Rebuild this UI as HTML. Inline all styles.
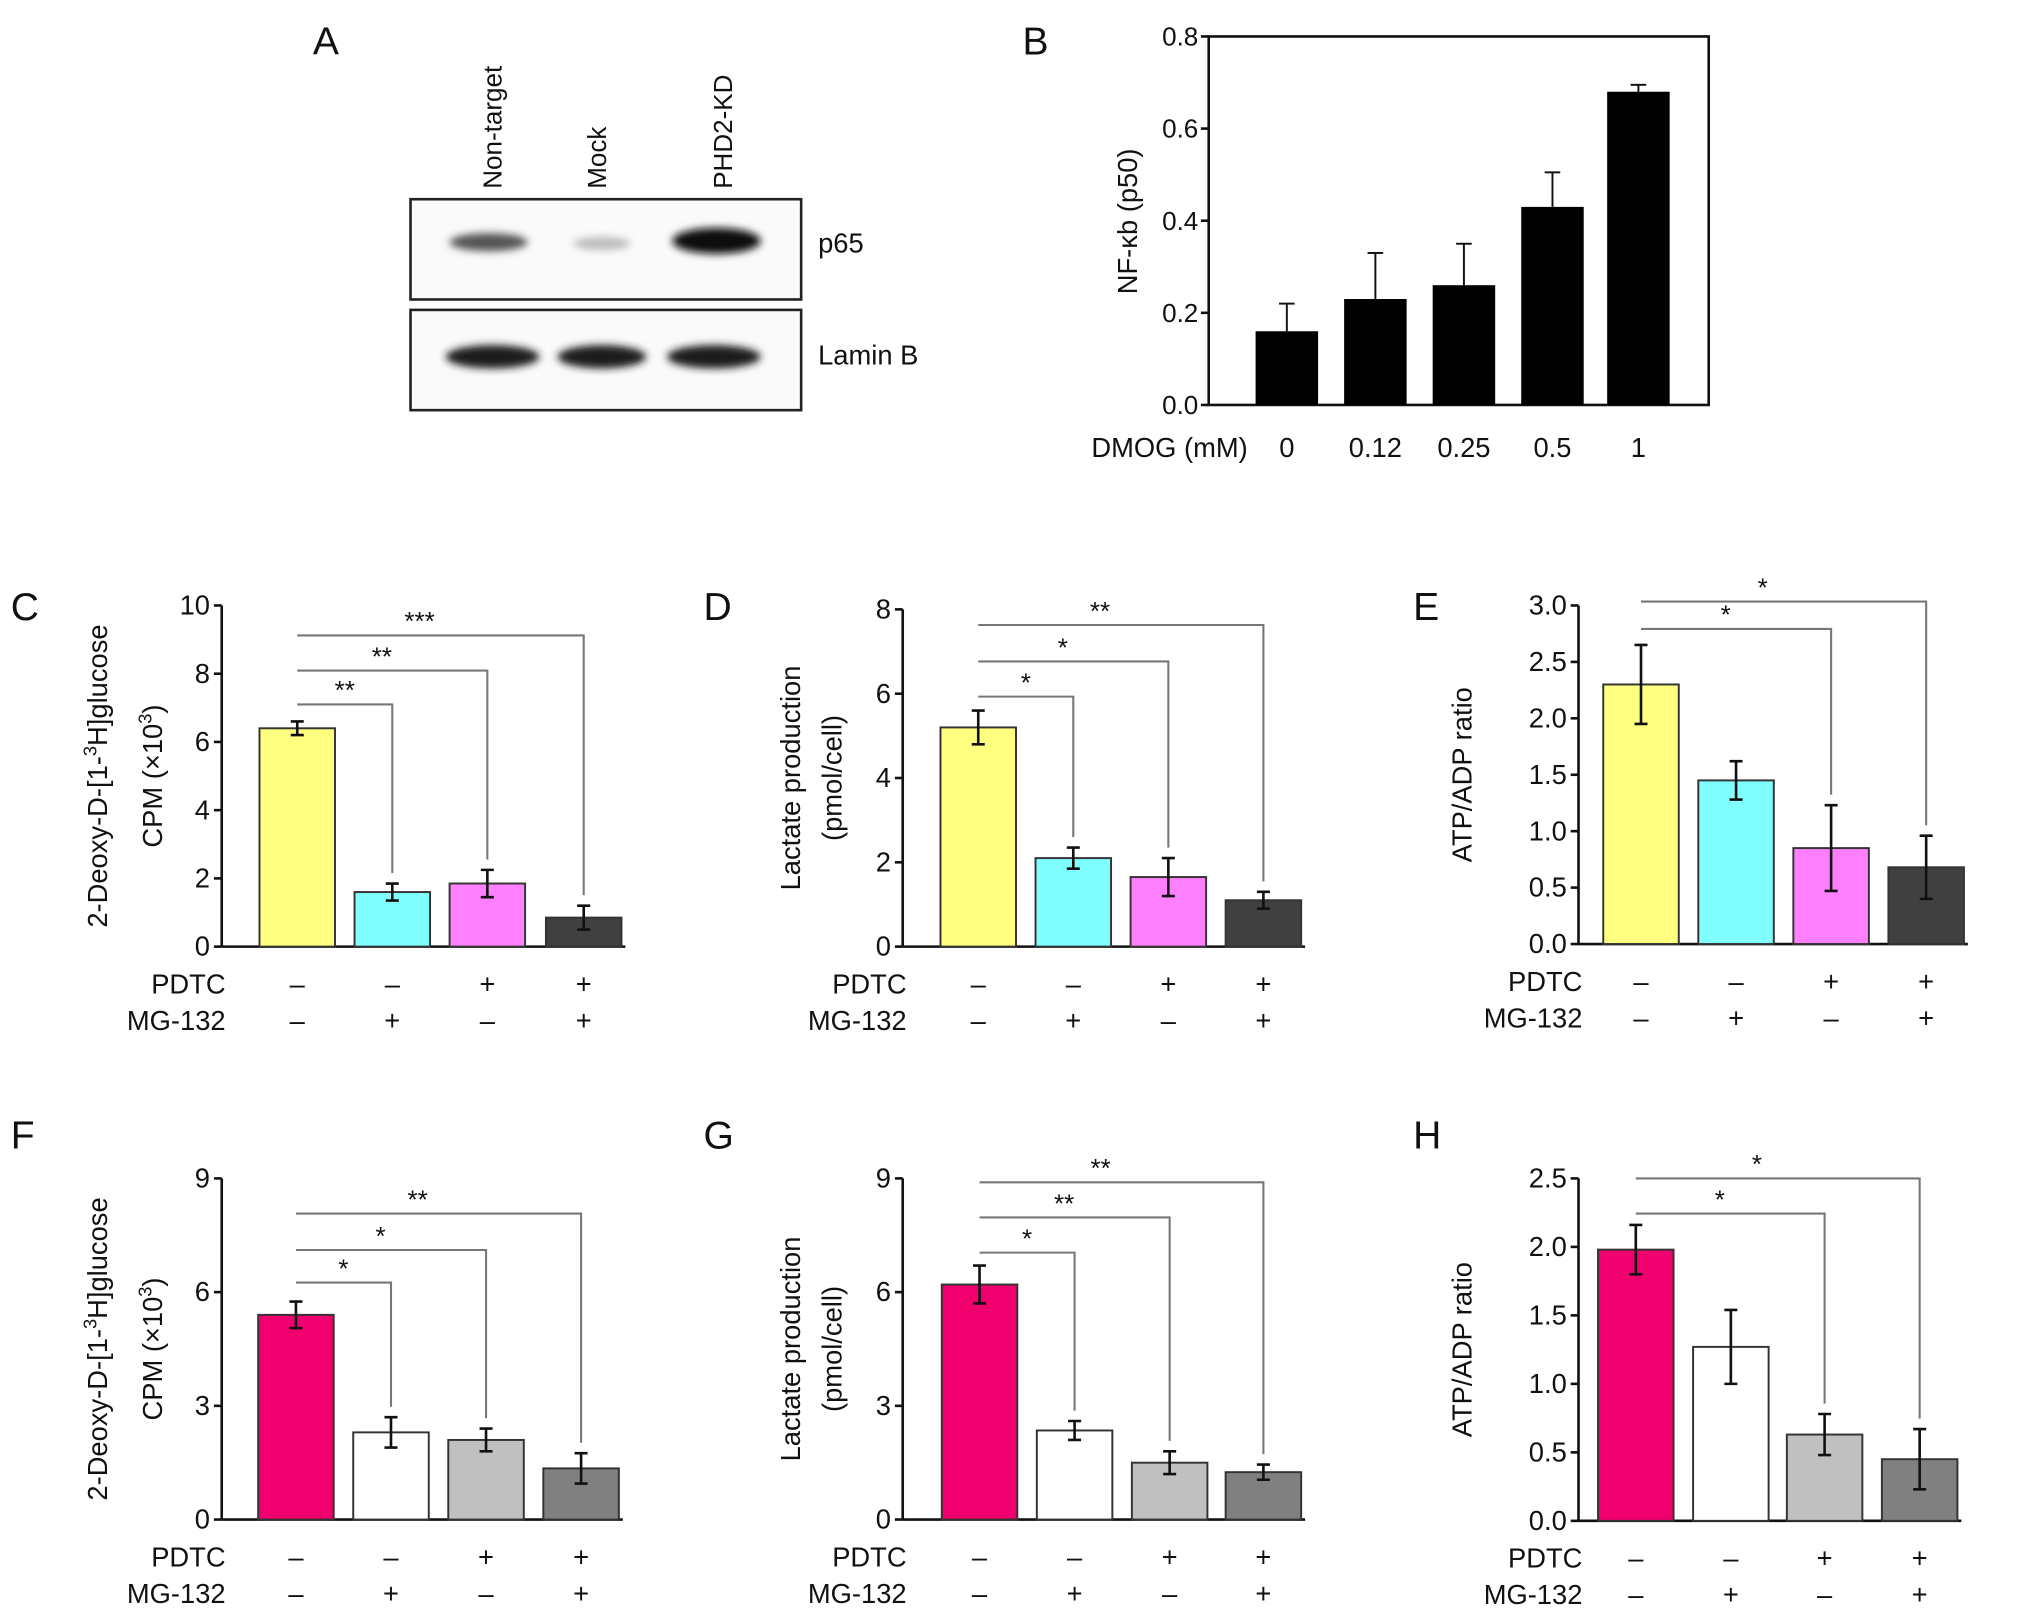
<!DOCTYPE html>
<html><head><meta charset="utf-8"><style>
html,body{margin:0;padding:0;background:#fff}
svg{display:block}
text{font-family:"Liberation Sans",sans-serif;fill:#111}
</style></head><body>
<svg id="fig" width="2032" height="1612" viewBox="0 0 1560 1238" xmlns="http://www.w3.org/2000/svg">
<defs>
<filter id="blur" x="-20%" y="-50%" width="140%" height="200%"><feGaussianBlur stdDeviation="3"/></filter>
</defs>
<g>
<text x="240" y="42" font-size="30">A</text>
<text transform="translate(385,145) rotate(-90)" font-size="20">Non-target</text>
<text transform="translate(465,145) rotate(-90)" font-size="20">Mock</text>
<text transform="translate(562,145) rotate(-90)" font-size="20">PHD2-KD</text>
<rect x="315" y="153" width="300" height="77" fill="#fafafa" stroke="#222" stroke-width="2"/>
<rect x="315" y="238" width="300" height="77" fill="#fafafa" stroke="#222" stroke-width="2"/>
<ellipse cx="375" cy="186" rx="30" ry="7" fill="#555" filter="url(#blur)"/>
<ellipse cx="462" cy="187" rx="22" ry="5" fill="#bbb" filter="url(#blur)"/>
<ellipse cx="550" cy="185" rx="34" ry="10" fill="#111" filter="url(#blur)"/>
<ellipse cx="378" cy="274" rx="36" ry="9" fill="#1a1a1a" filter="url(#blur)"/>
<ellipse cx="462" cy="274" rx="34" ry="9" fill="#1a1a1a" filter="url(#blur)"/>
<ellipse cx="548" cy="274" rx="36" ry="9" fill="#1a1a1a" filter="url(#blur)"/>
<text x="628" y="194" font-size="21">p65</text>
<text x="628" y="280" font-size="21">Lamin B</text>
</g>
<g id="charts"></g>
</svg>
<script>
// Panel B data
const bCategories = ["0","0.12","0.25","0.5","1"];
const bValues = [0.16,0.23,0.26,0.43,0.68];
const bErrors = [0.06,0.10,0.09,0.075,0.015];
const bTicks = [0,0.2,0.4,0.6,0.8];
// Panels C-H data
const cValues=[6.4,1.6,1.85,0.85], cErrors=[0.2,0.25,0.4,0.35], cTicks=[0,2,4,6,8,10], cStars=["**","**","***"];
const dValues=[5.2,2.1,1.65,1.1], dErrors=[0.4,0.25,0.45,0.2], dTicks=[0,2,4,6,8], dStars=["*","*","**"];
const eValues=[2.3,1.45,0.85,0.68], eErrors=[0.35,0.17,0.38,0.28], eTicks=[0,0.5,1.0,1.5,2.0,2.5,3.0], eStars=["*","*"];
const fValues=[5.4,2.3,2.1,1.35], fErrors=[0.35,0.4,0.3,0.4], fTicks=[0,3,6,9], fStars=["*","*","**"];
const gValues=[6.2,2.35,1.5,1.25], gErrors=[0.5,0.25,0.3,0.2], gTicks=[0,3,6,9], gStars=["*","**","**"];
const hValues=[1.98,1.27,0.63,0.45], hErrors=[0.18,0.27,0.15,0.22], hTicks=[0,0.5,1.0,1.5,2.0,2.5], hStars=["*","*"];
const pdtcSigns=["–","–","+","+"], mgSigns=["–","+","–","+"];

const NS="http://www.w3.org/2000/svg";
const root=document.getElementById('charts');
function mk(tag,attrs,parent,txt){const e=document.createElementNS(NS,tag);for(const k in attrs)e.setAttribute(k,attrs[k]);if(txt!==undefined)e.textContent=txt;(parent||root).appendChild(e);return e;}

// Panel B
(function(){
  const g=mk('g',{});
  
  
  const x0=928,x1=1312,y0=311,y1=28,max=0.8;
  const ys=v=>y0-(v/max)*(y0-y1);
  const xs=[988,1056,1124,1192,1258];
  let t=mk('text',{x:785,y:42,'font-size':30},g,'B');
  
  
  let r=mk('rect',{x:x0,y:y1,width:x1-x0,height:y0-y1,fill:'none',stroke:'#111','stroke-width':2},g);
  
  
  bTicks.forEach(v=>{
    mk('line',{x1:x0-6,x2:x0,y1:ys(v),y2:ys(v),stroke:'#111','stroke-width':2},g);
    const tt=mk('text',{x:x0-8,y:ys(v)+7,'font-size':20,'text-anchor':'end'},g,v.toFixed(1));
    
    
  });
  bValues.forEach((v,i)=>{
    const x=xs[i];
    const e=mk('line',{x1:x,x2:x,y1:ys(v),y2:ys(v+bErrors[i]),stroke:'#111','stroke-width':1.5},g);
    
    
    mk('line',{x1:x-6,x2:x+6,y1:ys(v+bErrors[i]),y2:ys(v+bErrors[i]),stroke:'#111','stroke-width':1.5},g);
    const b=mk('rect',{x:x-24,y:ys(v),width:48,height:y0-ys(v),fill:'#000'},g);
    
    
    const tl=mk('text',{x:x,y:351,'font-size':21,'text-anchor':'middle'},g,bCategories[i]);
    
    
  });
  const xl=mk('text',{x:958,y:351,'font-size':21,'text-anchor':'end'},g,'DMOG (mM)');
  
  
  const yl=mk('text',{transform:'translate(873,170) rotate(-90)','font-size':21,'text-anchor':'middle'},g,'NF-κb (p50)');
  
  
})();

function panel(o){
  const g=mk('g',{});
  
  
  const max=o.ticks[o.ticks.length-1];
  const ys=v=>o.y0-(v/max)*(o.y0-o.ytop);
  let t=mk('text',{x:o.lx,y:o.ly,'font-size':30},g,o.id.toUpperCase());
  
  
  let ax=mk('line',{x1:o.ax,x2:o.ax,y1:o.ytop,y2:o.y0,stroke:'#111','stroke-width':2},g);
  
  
  let xa=mk('line',{x1:o.ax,x2:o.xs[3]+32,y1:o.y0,y2:o.y0,stroke:'#111','stroke-width':2},g);
  
  
  o.ticks.forEach(v=>{
    mk('line',{x1:o.ax-6,x2:o.ax,y1:ys(v),y2:ys(v),stroke:'#111','stroke-width':2},g);
    const tt=mk('text',{x:o.ax-9,y:ys(v)+7,'font-size':21,'text-anchor':'end'},g,o.dec?v.toFixed(1):String(v));
    
    
  });
  o.values.forEach((v,i)=>{
    const x=o.xs[i];
    const b=mk('rect',{x:x-29,y:ys(v),width:58,height:o.y0-ys(v),fill:o.colors[i],stroke:'#333','stroke-width':1.5},g);
    
    
    const lo=ys(v-o.errors[i]),hi=ys(v+o.errors[i]);
    const e=mk('path',{d:`M${x},${lo}V${hi}M${x-5},${lo}H${x+5}M${x-5},${hi}H${x+5}`,stroke:'#111','stroke-width':2,fill:'none'},g);
    
    
    const p=mk('text',{x:x,y:o.y0+36,'font-size':21,'text-anchor':'middle'},g,pdtcSigns[i]);
    
    
    const m=mk('text',{x:x,y:o.y0+64,'font-size':21,'text-anchor':'middle'},g,mgSigns[i]);
    
    
  });
  const pl=mk('text',{x:o.ax+3,y:o.y0+36,'font-size':21,'text-anchor':'end'},g,'PDTC');
  
  
  const ml=mk('text',{x:o.ax+3,y:o.y0+64,'font-size':21,'text-anchor':'end'},g,'MG-132');
  
  
  // brackets
  const n=o.stars.length, start=4-n;
  o.stars.forEach((s,k)=>{
    const j=start+k, x2=o.xs[j], top=o.bry[k];
    const endY=ys(o.values[j]+o.errors[j])-8;
    const br=mk('path',{d:`M${o.xs[0]},${top}H${x2}V${endY}`,stroke:'#777','stroke-width':1.6,fill:'none'},g);
    
    
    const st=mk('text',{x:(o.xs[0]+x2)/2 - (j-1)*8,y:top-4,'font-size':20,'text-anchor':'middle',fill:'#555'},g,s);
    
    
  });
  o.ylab.forEach((l,k)=>{
    const yt=mk('text',{transform:`translate(${l[0]},${(o.y0+o.ytop)/2}) rotate(-90)`,'font-size':21,'text-anchor':'middle'},g);
    
    
    yt.innerHTML=l[1];
  });
}
const pastel=['#ffff80','#80ffff','#ff80ff','#404040'];
const dark=['#f0006e','#ffffff','#c0c0c0','#808080'];
const glu=[[82,'2-Deoxy-D-[1-<tspan font-size="14" dy="-8">3</tspan><tspan dy="8">H]glucose</tspan>'],[124,'CPM (×10<tspan font-size="14" dy="-8">3</tspan><tspan dy="8">)</tspan>']];
const lac=[[614,'Lactate production'],[646,'(pmol/cell)']];
const atp=[[1130,'ATP/ADP ratio']];
panel({id:'c',lx:8,ly:476,ax:170,y0:727,ytop:465,xs:[228,301,374,448],values:cValues,errors:cErrors,ticks:cTicks,stars:cStars,bry:[541,515,488],colors:pastel,ylab:glu});
panel({id:'d',lx:540,ly:476,ax:693,y0:727,ytop:468,xs:[751,824,897,970],values:dValues,errors:dErrors,ticks:dTicks,stars:dStars,bry:[535,508,480],colors:pastel,ylab:lac});
panel({id:'e',lx:1085,ly:476,ax:1212,y0:725,ytop:465,xs:[1260,1333,1406,1479],values:eValues,errors:eErrors,ticks:eTicks,stars:eStars,bry:[483,462],colors:pastel,ylab:atp,dec:true});
panel({id:'f',lx:8,ly:882,ax:170,y0:1167,ytop:905,xs:[227,300,373,446],values:fValues,errors:fErrors,ticks:fTicks,stars:fStars,bry:[985,960,932],colors:dark,ylab:glu});
panel({id:'g',lx:540,ly:882,ax:693,y0:1167,ytop:905,xs:[752,825,898,970],values:gValues,errors:gErrors,ticks:gTicks,stars:gStars,bry:[962,935,908],colors:dark,ylab:lac});
panel({id:'h',lx:1085,ly:882,ax:1212,y0:1168,ytop:905,xs:[1256,1329,1401,1474],values:hValues,errors:hErrors,ticks:hTicks,stars:hStars,bry:[932,905],colors:dark,ylab:atp,dec:true});
</script>
</body></html>
